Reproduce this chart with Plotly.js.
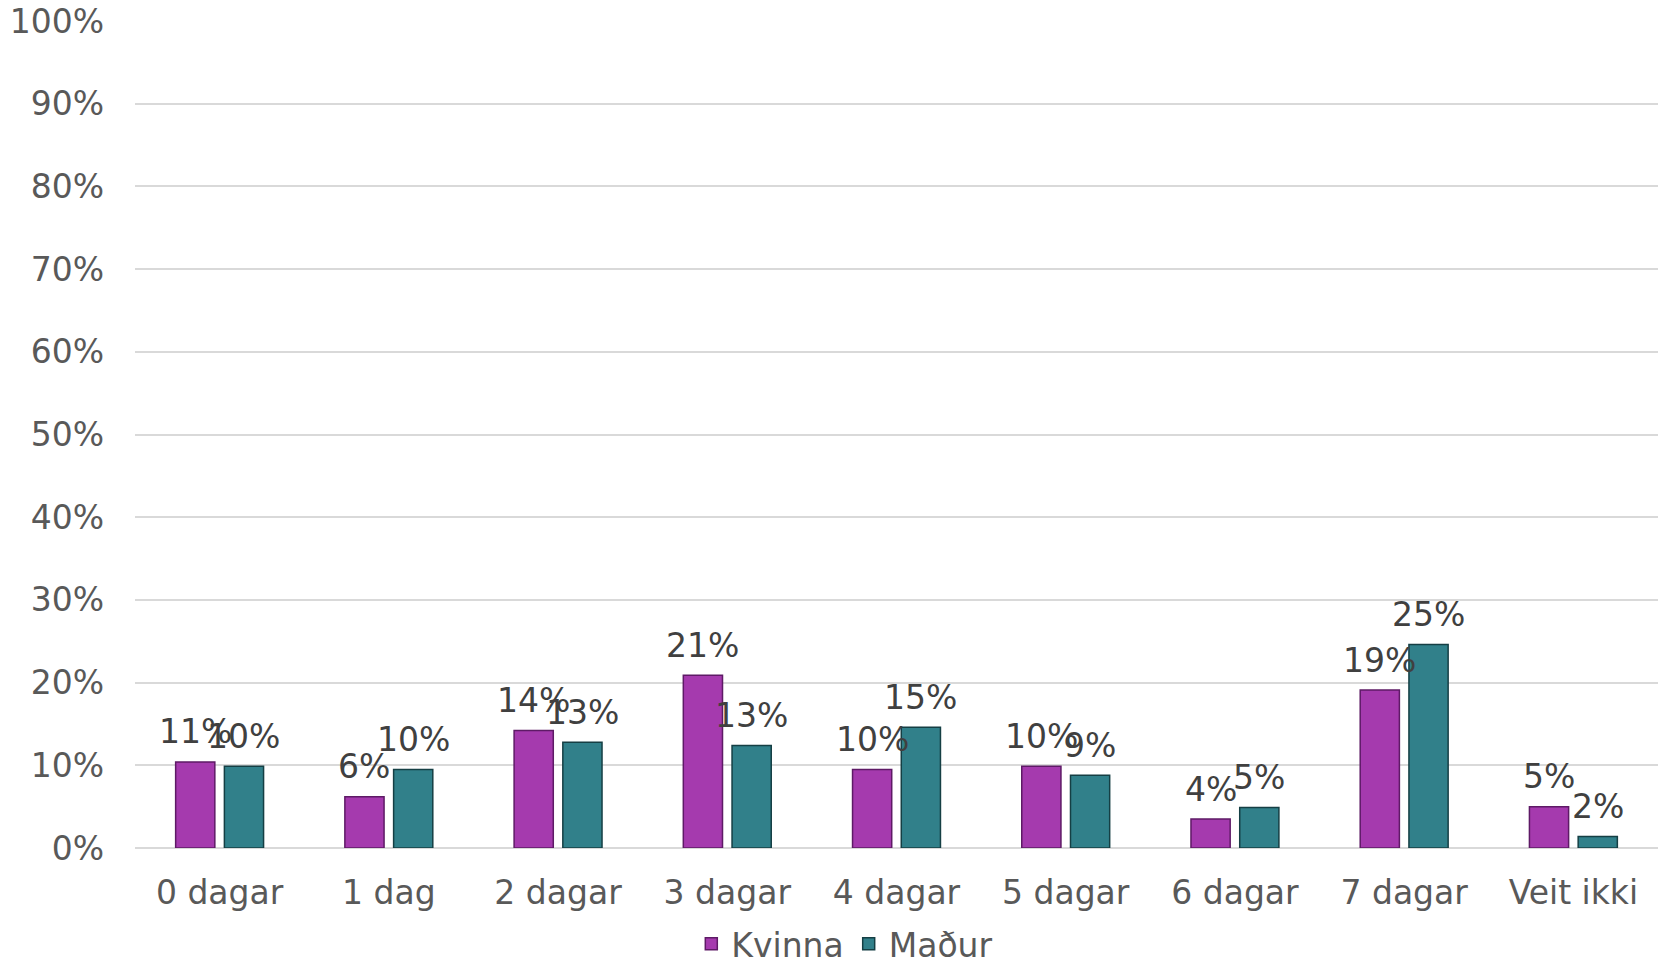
<!DOCTYPE html>
<html>
<head>
<meta charset="utf-8">
<script src="https://cdn.plot.ly/plotly-3.0.1.min.js"></script>
<style>html,body{margin:0;padding:0;background:#fff;}#chart{width:1663px;height:967px;}</style>
</head>
<body>
<div id="chart"></div>
<script>
const categories = ["0 dagar", "1 dag", "2 dagar", "3 dagar", "4 dagar", "5 dagar", "6 dagar", "7 dagar", "Veit ikki"];
const kvinna = [0.104, 0.062, 0.142, 0.209, 0.095, 0.099, 0.035, 0.191, 0.050];
const madur  = [0.099, 0.095, 0.128, 0.124, 0.146, 0.088, 0.049, 0.246, 0.014];
const kvinnaLabels = ["11%", "6%", "14%", "21%", "10%", "10%", "4%", "19%", "5%"];
const madurLabels  = ["10%", "10%", "13%", "13%", "15%", "9%", "5%", "25%", "2%"];
const yTicks = [0, 0.1, 0.2, 0.3, 0.4, 0.5, 0.6, 0.7, 0.8, 0.9, 1.0];
const yTickText = ["0%", "10%", "20%", "30%", "40%", "50%", "60%", "70%", "80%", "90%", "100%"];

const fontFam = "Verdana, 'DejaVu Sans', sans-serif";
const labelFont = {family: fontFam, size: 33, color: "#404040"};

const traces = [
  {type: "bar", name: "Kvinna", x: categories, y: kvinna, hoverinfo: "none",
   marker: {color: "#A53AAE", line: {color: "#5E1A66", width: 1.5}}},
  {type: "bar", name: "Maður", x: categories, y: madur, hoverinfo: "none",
   marker: {color: "#31808A", line: {color: "#153F44", width: 1.5}}}
];

// data labels placed above each bar via the axes' own scales
const bargap = 0.424, bargroupgap = 0.196;
const plotW = 1663 - 135 - 5;
const slot = plotW / categories.length * (1 - bargap) / 2;
const annotations = [];
categories.forEach((c, i) => {
  annotations.push({x: c, y: kvinna[i], xref: "x", yref: "y", text: kvinnaLabels[i], showarrow: false,
    xshift: -slot / 2, yshift: 30, yanchor: "middle", xanchor: "center", font: labelFont});
  annotations.push({x: c, y: madur[i], xref: "x", yref: "y", text: madurLabels[i], showarrow: false,
    xshift: slot / 2, yshift: 30, yanchor: "middle", xanchor: "center", font: labelFont});
});

const layout = {
  width: 1663, height: 967,
  margin: {l: 135, r: 5, t: 21, b: 119},
  paper_bgcolor: "#ffffff", plot_bgcolor: "#ffffff",
  barmode: "group", bargap: bargap, bargroupgap: bargroupgap,
  font: {family: fontFam, color: "#595959", size: 33},
  showlegend: true,
  annotations: annotations,
  legend: {orientation: "h", xref: "container", yref: "container", x: 0.508, xanchor: "center",
           y: 0.024, yanchor: "middle", font: {family: fontFam, size: 33, color: "#595959"},
           itemwidth: 30, tracegroupgap: 0},
  xaxis: {type: "category", showgrid: false, zeroline: false, showline: false,
          ticks: "", ticklabelstandoff: 22, tickfont: {family: fontFam, size: 33, color: "#595959"}},
  yaxis: {range: [0, 1], tickvals: yTicks, ticktext: yTickText, showgrid: true,
          gridcolor: "#D9D9D9", gridwidth: 2, zeroline: true, zerolinecolor: "#D9D9D9", zerolinewidth: 2,
          showline: false, ticks: "", ticklabelstandoff: 30,
          tickfont: {family: fontFam, size: 33, color: "#595959"}}
};

Plotly.newPlot("chart", traces, layout, {displayModeBar: false, staticPlot: true});
</script>
</body>
</html>
